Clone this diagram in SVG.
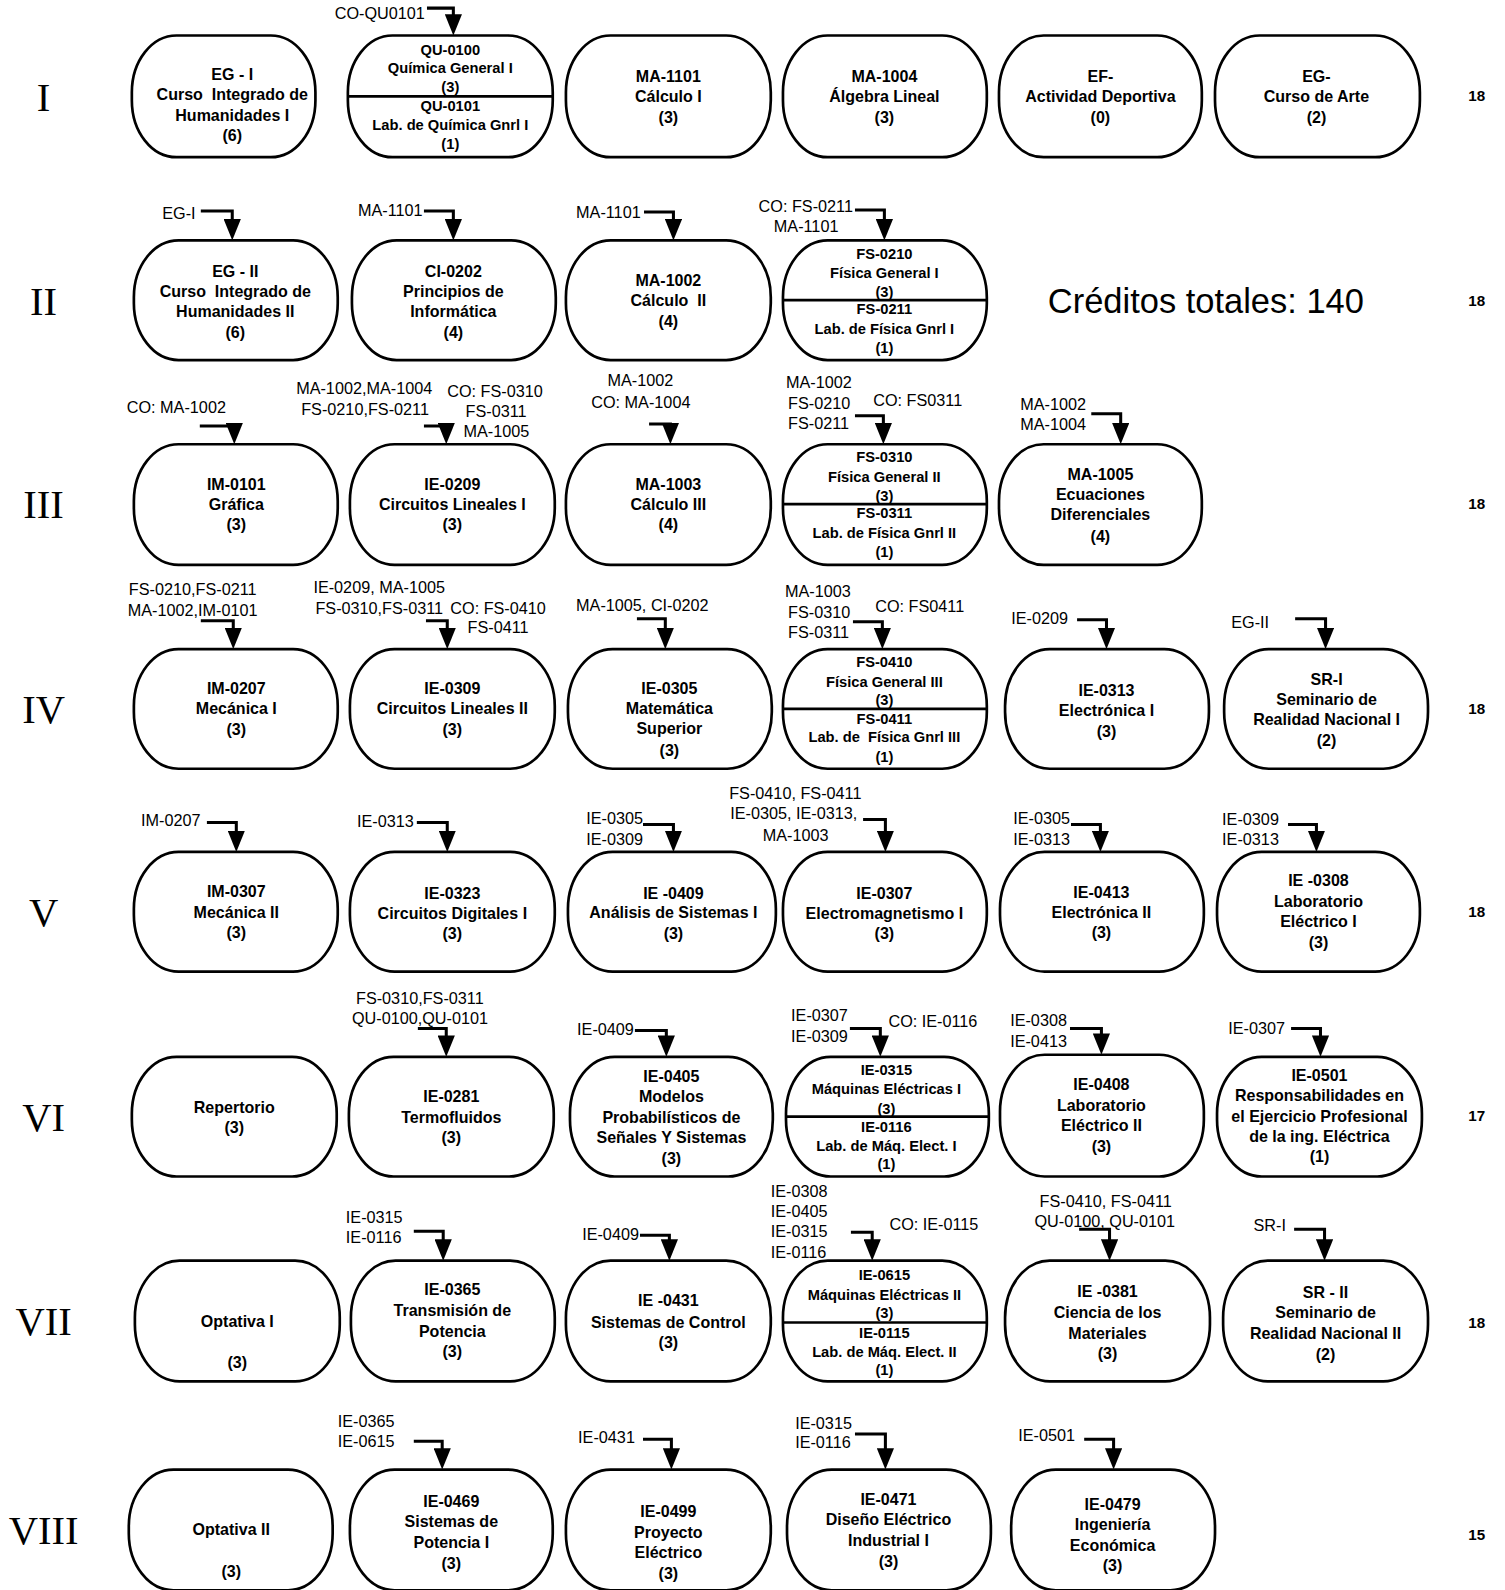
<svg xmlns="http://www.w3.org/2000/svg" width="1505" height="1590" viewBox="0 0 1505 1590">
<style>
.n{fill:#fff;stroke:#000;stroke-width:2.65}
.d{stroke:#000;stroke-width:2.65}
.t{font-family:"Liberation Sans",Arial,sans-serif;font-weight:bold;font-size:15.8px;text-anchor:middle;fill:#000}
.s{font-size:14.5px}
.l{font-family:"Liberation Sans",Arial,sans-serif;font-size:16px;fill:#000}
.r{font-family:"Liberation Serif","Times New Roman",serif;font-size:40px;text-anchor:middle;fill:#000}
.k{font-family:"Liberation Sans",Arial,sans-serif;font-weight:bold;font-size:15px;text-anchor:middle;fill:#000}
.c path{fill:none;stroke:#000;stroke-width:3;marker-end:url(#a)}
</style>
<defs>
<marker id="a" markerUnits="userSpaceOnUse" markerWidth="21" markerHeight="17" refX="15" refY="8.5" orient="auto" viewBox="0 0 21 17"><path d="M0,0 L21,8.5 L0,17 z" fill="#000"/></marker>
</defs>
<rect width="1505" height="1590" fill="#fff"/>
<g transform="scale(1.0142)">

<g id="semesters">
<text class="r" x="43" y="109">I</text>
<text class="r" x="43" y="311">II</text>
<text class="r" x="43" y="511">III</text>
<text class="r" x="43" y="713">IV</text>
<text class="r" x="43" y="913">V</text>
<text class="r" x="43" y="1115">VI</text>
<text class="r" x="43" y="1316">VII</text>
<text class="r" x="43" y="1522">VIII</text>
</g>
<g id="credits">
<text class="k" x="1456" y="100">18</text>
<text class="k" x="1456" y="302">18</text>
<text class="k" x="1456" y="502">18</text>
<text class="k" x="1456" y="704">18</text>
<text class="k" x="1456" y="904">18</text>
<text class="k" x="1456" y="1105">17</text>
<text class="k" x="1456" y="1309">18</text>
<text class="k" x="1456" y="1518">15</text>
</g>
<text id="total" x="1189" y="309" font-family="'Liberation Sans',Arial,sans-serif" font-size="34" text-anchor="middle">Créditos totales: 140</text>

<!-- Row I -->
<g id="EG-I"><rect class="n" x="130" y="35" width="181" height="120" rx="44" ry="56"/>
<text class="t" x="229" y="79">EG - I</text><text class="t" x="229" y="99" xml:space="preserve">Curso  Integrado de</text><text class="t" x="229" y="119">Humanidades I</text><text class="t" x="229" y="139">(6)</text></g>
<g id="QU-0100"><rect class="n" x="343" y="35" width="202" height="120" rx="44" ry="56"/><line class="d" x1="343" y1="95" x2="545" y2="95"/>
<text class="t s" x="444" y="54">QU-0100</text><text class="t s" x="444" y="72">Química General I</text><text class="t s" x="444" y="91">(3)</text>
<text class="t s" x="444" y="109">QU-0101</text><text class="t s" x="444" y="128">Lab. de Química Gnrl I</text><text class="t s" x="444" y="147">(1)</text></g>
<g id="MA-1101"><rect class="n" x="558" y="35" width="202" height="120" rx="44" ry="56"/>
<text class="t" x="659" y="81">MA-1101</text><text class="t" x="659" y="101">Cálculo I</text><text class="t" x="659" y="121">(3)</text></g>
<g id="MA-1004"><rect class="n" x="772" y="35" width="201" height="120" rx="44" ry="56"/>
<text class="t" x="872" y="81">MA-1004</text><text class="t" x="872" y="101">Álgebra Lineal</text><text class="t" x="872" y="121">(3)</text></g>
<g id="EF"><rect class="n" x="985" y="35" width="200" height="120" rx="44" ry="56"/>
<text class="t" x="1085" y="81">EF-</text><text class="t" x="1085" y="101">Actividad Deportiva</text><text class="t" x="1085" y="121">(0)</text></g>
<g id="EG-Arte"><rect class="n" x="1198" y="35" width="202" height="120" rx="44" ry="56"/>
<text class="t" x="1298" y="81">EG-</text><text class="t" x="1298" y="101">Curso de Arte</text><text class="t" x="1298" y="121">(2)</text></g>

<!-- Row II -->
<g id="EG-II"><rect class="n" x="132" y="237" width="201" height="118" rx="44" ry="56"/>
<text class="t" x="232" y="273">EG - II</text><text class="t" x="232" y="293" xml:space="preserve">Curso  Integrado de</text><text class="t" x="232" y="313">Humanidades II</text><text class="t" x="232" y="333">(6)</text></g>
<g id="CI-0202"><rect class="n" x="347" y="237" width="201" height="118" rx="44" ry="56"/>
<text class="t" x="447" y="273">CI-0202</text><text class="t" x="447" y="293">Principios de</text><text class="t" x="447" y="313">Informática</text><text class="t" x="447" y="333">(4)</text></g>
<g id="MA-1002"><rect class="n" x="558" y="237" width="202" height="118" rx="44" ry="56"/>
<text class="t" x="659" y="282">MA-1002</text><text class="t" x="659" y="302" xml:space="preserve">Cálculo  II</text><text class="t" x="659" y="322">(4)</text></g>
<g id="FS-0210"><rect class="n" x="772" y="237" width="201" height="118" rx="44" ry="56"/><line class="d" x1="772" y1="296" x2="973" y2="296"/>
<text class="t s" x="872" y="255">FS-0210</text><text class="t s" x="872" y="274">Física General I</text><text class="t s" x="872" y="293">(3)</text>
<text class="t s" x="872" y="310">FS-0211</text><text class="t s" x="872" y="329">Lab. de Física Gnrl I</text><text class="t s" x="872" y="348">(1)</text></g>

<!-- Row III -->
<g id="IM-0101"><rect class="n" x="132" y="438" width="201" height="119" rx="44" ry="56"/>
<text class="t" x="233" y="483">IM-0101</text><text class="t" x="233" y="503">Gráfica</text><text class="t" x="233" y="523">(3)</text></g>
<g id="IE-0209"><rect class="n" x="345" y="438" width="202" height="119" rx="44" ry="56"/>
<text class="t" x="446" y="483">IE-0209</text><text class="t" x="446" y="503">Circuitos Lineales I</text><text class="t" x="446" y="523">(3)</text></g>
<g id="MA-1003"><rect class="n" x="558" y="438" width="202" height="119" rx="44" ry="56"/>
<text class="t" x="659" y="483">MA-1003</text><text class="t" x="659" y="503">Cálculo III</text><text class="t" x="659" y="523">(4)</text></g>
<g id="FS-0310"><rect class="n" x="772" y="438" width="201" height="119" rx="44" ry="56"/><line class="d" x1="772" y1="497" x2="973" y2="497"/>
<text class="t s" x="872" y="456">FS-0310</text><text class="t s" x="872" y="475">Física General II</text><text class="t s" x="872" y="494">(3)</text>
<text class="t s" x="872" y="511">FS-0311</text><text class="t s" x="872" y="530">Lab. de Física Gnrl II</text><text class="t s" x="872" y="549">(1)</text></g>
<g id="MA-1005"><rect class="n" x="985" y="438" width="200" height="119" rx="44" ry="56"/>
<text class="t" x="1085" y="473">MA-1005</text><text class="t" x="1085" y="493">Ecuaciones</text><text class="t" x="1085" y="513">Diferenciales</text><text class="t" x="1085" y="534">(4)</text></g>

<!-- Row IV -->
<g id="IM-0207"><rect class="n" x="132" y="640" width="201" height="118" rx="44" ry="56"/>
<text class="t" x="233" y="684">IM-0207</text><text class="t" x="233" y="704">Mecánica I</text><text class="t" x="233" y="725">(3)</text></g>
<g id="IE-0309"><rect class="n" x="345" y="640" width="202" height="118" rx="44" ry="56"/>
<text class="t" x="446" y="684">IE-0309</text><text class="t" x="446" y="704">Circuitos Lineales II</text><text class="t" x="446" y="725">(3)</text></g>
<g id="IE-0305"><rect class="n" x="560" y="640" width="201" height="118" rx="44" ry="56"/>
<text class="t" x="660" y="684">IE-0305</text><text class="t" x="660" y="704">Matemática</text><text class="t" x="660" y="724">Superior</text><text class="t" x="660" y="745">(3)</text></g>
<g id="FS-0410"><rect class="n" x="772" y="640" width="201" height="118" rx="44" ry="56"/><line class="d" x1="772" y1="699" x2="973" y2="699"/>
<text class="t s" x="872" y="658">FS-0410</text><text class="t s" x="872" y="677">Física General III</text><text class="t s" x="872" y="695">(3)</text>
<text class="t s" x="872" y="714">FS-0411</text><text class="t s" x="872" y="732" xml:space="preserve">Lab. de  Física Gnrl III</text><text class="t s" x="872" y="751">(1)</text></g>
<g id="IE-0313"><rect class="n" x="991" y="640" width="201" height="118" rx="44" ry="56"/>
<text class="t" x="1091" y="686">IE-0313</text><text class="t" x="1091" y="706">Electrónica I</text><text class="t" x="1091" y="727">(3)</text></g>
<g id="SR-I"><rect class="n" x="1207" y="640" width="201" height="118" rx="44" ry="56"/>
<text class="t" x="1308" y="675">SR-I</text><text class="t" x="1308" y="695">Seminario de</text><text class="t" x="1308" y="715">Realidad Nacional I</text><text class="t" x="1308" y="736">(2)</text></g>

<!-- Row V -->
<g id="IM-0307"><rect class="n" x="132" y="840" width="201" height="118" rx="44" ry="56"/>
<text class="t" x="233" y="884">IM-0307</text><text class="t" x="233" y="905">Mecánica II</text><text class="t" x="233" y="925">(3)</text></g>
<g id="IE-0323"><rect class="n" x="345" y="840" width="202" height="118" rx="44" ry="56"/>
<text class="t" x="446" y="886">IE-0323</text><text class="t" x="446" y="906">Circuitos Digitales I</text><text class="t" x="446" y="926">(3)</text></g>
<g id="IE-0409"><rect class="n" x="560" y="840" width="205" height="118" rx="44" ry="56"/>
<text class="t" x="664" y="886">IE -0409</text><text class="t" x="664" y="905">Análisis de Sistemas I</text><text class="t" x="664" y="926">(3)</text></g>
<g id="IE-0307"><rect class="n" x="772" y="840" width="201" height="118" rx="44" ry="56"/>
<text class="t" x="872" y="886">IE-0307</text><text class="t" x="872" y="906">Electromagnetismo I</text><text class="t" x="872" y="926">(3)</text></g>
<g id="IE-0413"><rect class="n" x="986" y="840" width="201" height="118" rx="44" ry="56"/>
<text class="t" x="1086" y="885">IE-0413</text><text class="t" x="1086" y="905">Electrónica II</text><text class="t" x="1086" y="925">(3)</text></g>
<g id="IE-0308"><rect class="n" x="1200" y="840" width="200" height="118" rx="44" ry="56"/>
<text class="t" x="1300" y="874">IE -0308</text><text class="t" x="1300" y="894">Laboratorio</text><text class="t" x="1300" y="914">Eléctrico I</text><text class="t" x="1300" y="935">(3)</text></g>

<!-- Row VI -->
<g id="Repertorio"><rect class="n" x="130" y="1042" width="202" height="118" rx="44" ry="56"/>
<text class="t" x="231" y="1097">Repertorio</text><text class="t" x="231" y="1117">(3)</text></g>
<g id="IE-0281"><rect class="n" x="344" y="1042" width="202" height="118" rx="44" ry="56"/>
<text class="t" x="445" y="1087">IE-0281</text><text class="t" x="445" y="1107">Termofluidos</text><text class="t" x="445" y="1127">(3)</text></g>
<g id="IE-0405"><rect class="n" x="562" y="1042" width="200" height="118" rx="44" ry="56"/>
<text class="t" x="662" y="1067">IE-0405</text><text class="t" x="662" y="1087">Modelos</text><text class="t" x="662" y="1107">Probabilísticos de</text><text class="t" x="662" y="1127">Señales Y Sistemas</text><text class="t" x="662" y="1148">(3)</text></g>
<g id="IE-0315"><rect class="n" x="775" y="1042" width="200" height="118" rx="44" ry="56"/><line class="d" x1="775" y1="1101" x2="975" y2="1101"/>
<text class="t s" x="874" y="1060">IE-0315</text><text class="t s" x="874" y="1079">Máquinas Eléctricas I</text><text class="t s" x="874" y="1098">(3)</text>
<text class="t s" x="874" y="1116">IE-0116</text><text class="t s" x="874" y="1135">Lab. de Máq. Elect. I</text><text class="t s" x="874" y="1153">(1)</text></g>
<g id="IE-0408"><rect class="n" x="986" y="1040" width="201" height="120" rx="44" ry="56"/>
<text class="t" x="1086" y="1075">IE-0408</text><text class="t" x="1086" y="1095">Laboratorio</text><text class="t" x="1086" y="1115">Eléctrico II</text><text class="t" x="1086" y="1136">(3)</text></g>
<g id="IE-0501"><rect class="n" x="1200" y="1042" width="202" height="118" rx="44" ry="56"/>
<text class="t" x="1301" y="1066">IE-0501</text><text class="t" x="1301" y="1086">Responsabilidades en</text><text class="t" x="1301" y="1106">el Ejercicio Profesional</text><text class="t" x="1301" y="1126">de la ing. Eléctrica</text><text class="t" x="1301" y="1146">(1)</text></g>

<!-- Row VII -->
<g id="Optativa-I"><rect class="n" x="133" y="1243" width="202" height="119" rx="44" ry="56"/>
<text class="t" x="234" y="1308">Optativa I</text><text class="t" x="234" y="1349">(3)</text></g>
<g id="IE-0365"><rect class="n" x="346" y="1243" width="201" height="119" rx="44" ry="56"/>
<text class="t" x="446" y="1277">IE-0365</text><text class="t" x="446" y="1298">Transmisión de</text><text class="t" x="446" y="1318">Potencia</text><text class="t" x="446" y="1338">(3)</text></g>
<g id="IE-0431"><rect class="n" x="558" y="1243" width="202" height="119" rx="44" ry="56"/>
<text class="t" x="659" y="1288">IE -0431</text><text class="t" x="659" y="1309">Sistemas de Control</text><text class="t" x="659" y="1329">(3)</text></g>
<g id="IE-0615"><rect class="n" x="772" y="1243" width="201" height="119" rx="44" ry="56"/><line class="d" x1="772" y1="1304" x2="973" y2="1304"/>
<text class="t s" x="872" y="1262">IE-0615</text><text class="t s" x="872" y="1282">Máquinas Eléctricas II</text><text class="t s" x="872" y="1300">(3)</text>
<text class="t s" x="872" y="1319">IE-0115</text><text class="t s" x="872" y="1338">Lab. de Máq. Elect. II</text><text class="t s" x="872" y="1356">(1)</text></g>
<g id="IE-0381"><rect class="n" x="991" y="1243" width="202" height="119" rx="44" ry="56"/>
<text class="t" x="1092" y="1279">IE -0381</text><text class="t" x="1092" y="1300">Ciencia de los</text><text class="t" x="1092" y="1320">Materiales</text><text class="t" x="1092" y="1340">(3)</text></g>
<g id="SR-II"><rect class="n" x="1206" y="1243" width="202" height="119" rx="44" ry="56"/>
<text class="t" x="1307" y="1280">SR - II</text><text class="t" x="1307" y="1300">Seminario de</text><text class="t" x="1307" y="1320">Realidad Nacional II</text><text class="t" x="1307" y="1341">(2)</text></g>

<!-- Row VIII -->
<g id="Optativa-II"><rect class="n" x="127" y="1449" width="201" height="119" rx="44" ry="56"/>
<text class="t" x="228" y="1514">Optativa II</text><text class="t" x="228" y="1555">(3)</text></g>
<g id="IE-0469"><rect class="n" x="345" y="1449" width="200" height="119" rx="44" ry="56"/>
<text class="t" x="445" y="1486">IE-0469</text><text class="t" x="445" y="1506">Sistemas de</text><text class="t" x="445" y="1526">Potencia I</text><text class="t" x="445" y="1547">(3)</text></g>
<g id="IE-0499"><rect class="n" x="558" y="1449" width="202" height="119" rx="44" ry="56"/>
<text class="t" x="659" y="1496">IE-0499</text><text class="t" x="659" y="1516">Proyecto</text><text class="t" x="659" y="1536">Eléctrico</text><text class="t" x="659" y="1557">(3)</text></g>
<g id="IE-0471"><rect class="n" x="776" y="1449" width="201" height="119" rx="44" ry="56"/>
<text class="t" x="876" y="1484">IE-0471</text><text class="t" x="876" y="1504">Diseño Eléctrico</text><text class="t" x="876" y="1524">Industrial I</text><text class="t" x="876" y="1545">(3)</text></g>
<g id="IE-0479"><rect class="n" x="997" y="1449" width="201" height="119" rx="44" ry="56"/>
<text class="t" x="1097" y="1489">IE-0479</text><text class="t" x="1097" y="1509">Ingeniería</text><text class="t" x="1097" y="1529">Económica</text><text class="t" x="1097" y="1549">(3)</text></g>

<g id="prereq-labels">
<text class="l" x="330" y="19">CO-QU0101</text>
<text class="l" x="160" y="216">EG-I</text>
<text class="l" x="353" y="213">MA-1101</text>
<text class="l" x="568" y="215">MA-1101</text>
<text class="l" x="748" y="209">CO: FS-0211</text><text class="l" x="763" y="229">MA-1101</text>
<text class="l" x="125" y="407">CO: MA-1002</text>
<text class="l" x="292" y="388">MA-1002,MA-1004</text><text class="l" x="297" y="409">FS-0210,FS-0211</text>
<text class="l" x="441" y="391">CO: FS-0310</text><text class="l" x="459" y="411">FS-0311</text><text class="l" x="457" y="431">MA-1005</text>
<text class="l" x="599" y="381">MA-1002</text><text class="l" x="583" y="402">CO: MA-1004</text>
<text class="l" x="775" y="383">MA-1002</text><text class="l" x="777" y="403">FS-0210</text><text class="l" x="777" y="423">FS-0211</text><text class="l" x="861" y="400">CO: FS0311</text>
<text class="l" x="1006" y="404">MA-1002</text><text class="l" x="1006" y="424">MA-1004</text>
<text class="l" x="127" y="587">FS-0210,FS-0211</text><text class="l" x="126" y="607">MA-1002,IM-0101</text>
<text class="l" x="309" y="585">IE-0209, MA-1005</text><text class="l" x="311" y="605">FS-0310,FS-0311</text><text class="l" x="444" y="605">CO: FS-0410</text><text class="l" x="461" y="624">FS-0411</text>
<text class="l" x="568" y="602">MA-1005, CI-0202</text>
<text class="l" x="774" y="589">MA-1003</text><text class="l" x="777" y="609">FS-0310</text><text class="l" x="777" y="629">FS-0311</text><text class="l" x="863" y="603">CO: FS0411</text>
<text class="l" x="997" y="615">IE-0209</text>
<text class="l" x="1214" y="619">EG-II</text>
<text class="l" x="139" y="814">IM-0207</text>
<text class="l" x="352" y="815">IE-0313</text>
<text class="l" x="578" y="812">IE-0305</text><text class="l" x="578" y="833">IE-0309</text>
<text class="l" x="719" y="788">FS-0410, FS-0411</text><text class="l" x="720" y="808">IE-0305, IE-0313,</text><text class="l" x="752" y="829">MA-1003</text>
<text class="l" x="999" y="812">IE-0305</text><text class="l" x="999" y="833">IE-0313</text>
<text class="l" x="1205" y="813">IE-0309</text><text class="l" x="1205" y="833">IE-0313</text>
<text class="l" x="351" y="990">FS-0310,FS-0311</text><text class="l" x="347" y="1010">QU-0100,QU-0101</text>
<text class="l" x="569" y="1021">IE-0409</text>
<text class="l" x="780" y="1007">IE-0307</text><text class="l" x="780" y="1027">IE-0309</text><text class="l" x="876" y="1013">CO: IE-0116</text>
<text class="l" x="996" y="1012">IE-0308</text><text class="l" x="996" y="1032">IE-0413</text>
<text class="l" x="1211" y="1020">IE-0307</text>
<text class="l" x="341" y="1206">IE-0315</text><text class="l" x="341" y="1226">IE-0116</text>
<text class="l" x="574" y="1223">IE-0409</text>
<text class="l" x="760" y="1180">IE-0308</text><text class="l" x="760" y="1200">IE-0405</text><text class="l" x="760" y="1220">IE-0315</text><text class="l" x="760" y="1240">IE-0116</text><text class="l" x="877" y="1213">CO: IE-0115</text>
<text class="l" x="1025" y="1190">FS-0410, FS-0411</text><text class="l" x="1020" y="1210">QU-0100, QU-0101</text>
<text class="l" x="1236" y="1214">SR-I</text>
<text class="l" x="333" y="1407">IE-0365</text><text class="l" x="333" y="1427">IE-0615</text>
<text class="l" x="570" y="1423">IE-0431</text>
<text class="l" x="784" y="1409">IE-0315</text><text class="l" x="784" y="1428">IE-0116</text>
<text class="l" x="1004" y="1421">IE-0501</text>
</g>

<g id="connectors" class="c">
<path d="M421 8 H447 V29"/>
<path d="M198 208 H229 V231"/>
<path d="M418 208 H447 V231"/>
<path d="M635 209 H664 V231"/>
<path d="M843 207 H872 V231"/>
<path d="M197 420 H231 V432"/>
<path d="M418 420 H440 V432"/>
<path d="M640 418 H661 V432"/>
<path d="M843 410 H871 V432"/>
<path d="M1076 408 H1105 V432"/>
<path d="M198 612 H230 V634"/>
<path d="M420 612 H441 V634"/>
<path d="M628 610 H656 V634"/>
<path d="M841 613 H870 V634"/>
<path d="M1062 611 H1091 V634"/>
<path d="M1277 610 H1307 V634"/>
<path d="M204 811 H233 V834"/>
<path d="M411 811 H441 V834"/>
<path d="M634 813 H664 V834"/>
<path d="M851 808 H873 V834"/>
<path d="M1056 813 H1085 V834"/>
<path d="M1270 813 H1298 V834"/>
<path d="M412 1014 H440 V1036"/>
<path d="M626 1016 H657 V1036"/>
<path d="M838 1014 H868 V1036"/>
<path d="M1055 1014 H1086 V1034"/>
<path d="M1273 1014 H1302 V1036"/>
<path d="M408 1214 H437 V1237"/>
<path d="M631 1218 H660 V1237"/>
<path d="M839 1215 H860 V1237"/>
<path d="M1064 1212 H1094 V1237"/>
<path d="M1276 1212 H1306 V1237"/>
<path d="M408 1421 H436 V1443"/>
<path d="M634 1419 H662 V1443"/>
<path d="M843 1414 H873 V1443"/>
<path d="M1069 1419 H1098 V1443"/>
</g>
</g>
</svg>
